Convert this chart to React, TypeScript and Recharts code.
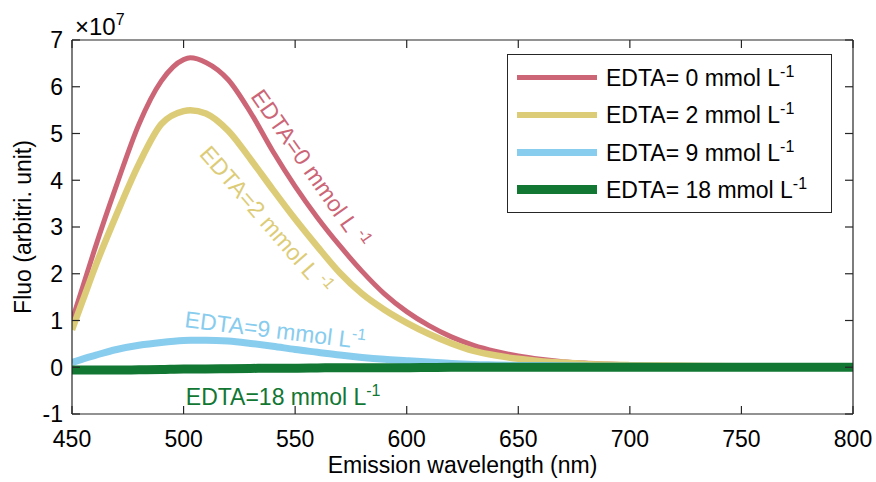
import React from 'react';
import { LineChart, Line, XAxis, YAxis, Legend, ReferenceDot } from 'recharts';

// Emission wavelength (nm)
const wavelengthNm = [450, 455, 460, 470, 480, 490, 500, 503, 510, 520, 530, 540, 550, 560, 570, 580, 590, 600, 610, 620, 630, 640, 650, 660, 670, 680, 690, 700, 725, 750, 775, 800];
// Fluorescence, in units of 1e7 (arbitrary units)
const fluoEdta0 = [1.0, 1.75, 2.5, 3.9, 5.2, 6.12, 6.58, 6.62, 6.52, 6.15, 5.45, 4.62, 3.87, 3.2, 2.6, 2.05, 1.57, 1.19, 0.89, 0.65, 0.47, 0.34, 0.24, 0.17, 0.12, 0.09, 0.07, 0.05, 0.03, 0.02, 0.02, 0.02];
const fluoEdta2 = [0.8, 1.45, 2.1, 3.27, 4.35, 5.2, 5.48, 5.5, 5.43, 5.06, 4.45, 3.8, 3.17, 2.58, 2.02, 1.57, 1.23, 0.95, 0.71, 0.51, 0.35, 0.25, 0.18, 0.13, 0.1, 0.07, 0.055, 0.045, 0.03, 0.02, 0.01, 0.01];
const fluoEdta9 = [0.1, 0.18, 0.25, 0.38, 0.47, 0.53, 0.57, 0.575, 0.58, 0.56, 0.51, 0.45, 0.38, 0.32, 0.26, 0.21, 0.17, 0.14, 0.11, 0.08, 0.06, 0.05, 0.04, 0.035, 0.03, 0.025, 0.02, 0.02, 0.015, 0.01, 0.01, 0.01];
const fluoEdta18 = [-0.06, -0.06, -0.06, -0.06, -0.055, -0.05, -0.04, -0.04, -0.035, -0.03, -0.025, -0.02, -0.02, -0.015, -0.01, -0.01, -0.01, -0.01, -0.005, 0, 0, 0, 0, 0, 0, 0, 0, 0, 0, 0, 0, 0];

const xTicks = [450, 500, 550, 600, 650, 700, 750, 800];
const yTicks = [-1, 0, 1, 2, 3, 4, 5, 6, 7];

const seriesNames = ['EDTA= 0 mmol L', 'EDTA= 2 mmol L', 'EDTA= 9 mmol L', 'EDTA= 18 mmol L'];
const seriesKeys = ['e0', 'e2', 'e9', 'e18'];
const seriesColors = ['#CC6677', '#DDCC77', '#88CCEE', '#117733'];
const seriesWidths = [5, 6.5, 7, 9];

// annotation labels: [text, x (nm), y (1e7), angle, anchor, series index]
const annotations: [string, number, number, number, string, number][] = [
  ['EDTA=0 mmol L ', 553.9, 4.15, 55, 'middle', 0],
  ['EDTA=2 mmol L ', 534.2, 3.04, 49, 'middle', 1],
  ['EDTA=9 mmol L', 500.2, 0.86, 7, 'start', 2],
  ['EDTA=18 mmol L', 501, -0.81, 0, 'start', 3],
];

const data = wavelengthNm.map((wl, i) => ({
  wl,
  e0: fluoEdta0[i],
  e2: fluoEdta2[i],
  e9: fluoEdta9[i],
  e18: fluoEdta18[i],
}));

const FONT = 'Liberation Sans, Arial, Helvetica, sans-serif';
const AXIS = '#262626';
const FS = 23;
const TICK_LEN = 8;

const LegendBox = () => (
  <div
    style={{
      boxSizing: 'border-box',
      width: 325,
      height: 159,
      border: `1.3px solid ${AXIS}`,
      background: '#fff',
      paddingTop: 4,
      fontFamily: FONT,
      fontSize: FS,
      color: '#000',
    }}
  >
    {seriesNames.map((n, i) => (
      <div key={n} style={{ height: 37.4, position: 'relative' }}>
        <div
          style={{
            position: 'absolute',
            left: 9,
            width: 80,
            height: seriesWidths[i],
            background: seriesColors[i],
            top: 18.7 - seriesWidths[i] / 2,
          }}
        />
        <span style={{ position: 'absolute', left: 98, top: 4, whiteSpace: 'nowrap', lineHeight: '30px' }}>
          {n}
          <sup style={{ fontSize: 16, verticalAlign: 'top', position: 'relative', top: -6 }}>-1</sup>
        </span>
      </div>
    ))}
  </div>
);

const makeAnnotation = (a: [string, number, number, number, string, number]) => (props: any) => {
  const { cx, cy } = props;
  if (cx == null || cy == null) return <g />;
  return (
    <text
      x={cx}
      y={cy}
      transform={`rotate(${a[3]} ${cx} ${cy})`}
      textAnchor={a[4] as any}
      fill={seriesColors[a[5]]}
      fontFamily={FONT}
      fontSize={FS}
    >
      {a[0]}
      <tspan dy={-9} fontSize={16}>-1</tspan>
    </text>
  );
};

// custom ticks: inward tick marks (MATLAB style) + labels
const BottomTick = (p: any) => (
  <g>
    <line x1={p.x} x2={p.x} y1={p.y - 16} y2={p.y - 16 - TICK_LEN} stroke={AXIS} strokeWidth={1.2} />
    <text x={p.x} y={p.y} dy="0.72em" textAnchor="middle" fill="#000" fontFamily={FONT} fontSize={FS}>
      {p.payload.value}
    </text>
  </g>
);
const LeftTick = (p: any) => (
  <g>
    <line x1={p.x + 9} x2={p.x + 9 + TICK_LEN} y1={p.y} y2={p.y} stroke={AXIS} strokeWidth={1.2} />
    <text x={p.x} y={p.y} dy="0.36em" textAnchor="end" fill="#000" fontFamily={FONT} fontSize={FS}>
      {p.payload.value}
    </text>
  </g>
);
const TopTick = (p: any) => (
  <line x1={p.x} x2={p.x} y1={p.y} y2={p.y + TICK_LEN} stroke={AXIS} strokeWidth={1.2} />
);
const RightTick = (p: any) => (
  <line x1={p.x} x2={p.x - TICK_LEN} y1={p.y} y2={p.y} stroke={AXIS} strokeWidth={1.2} />
);

export default function App() {
  return (
    <div style={{ position: 'absolute', left: 0, top: 0, width: 876, height: 482, background: '#fff' }}>
      <LineChart
        width={876}
        height={482}
        data={data}
        margin={{ top: 39, right: 22, bottom: 38, left: 8 }}
      >
        <XAxis
          dataKey="wl"
          type="number"
          domain={[450, 800]}
          ticks={xTicks}
          allowDataOverflow
          height={30}
          tickSize={0}
          tickMargin={16}
          tickLine={false}
          stroke={AXIS}
          strokeWidth={1.2}
          tick={BottomTick}
          label={{
            value: 'Emission wavelength (nm)',
            position: 'bottom',
            offset: 13,
            style: { fill: '#000', fontSize: FS, fontFamily: FONT },
          }}
        />
        <XAxis
          xAxisId="top"
          orientation="top"
          dataKey="wl"
          type="number"
          domain={[450, 800]}
          ticks={xTicks}
          allowDataOverflow
          height={1}
          tickSize={0}
          tickMargin={0}
          tickLine={false}
          tick={TopTick}
          stroke={AXIS}
          strokeWidth={1.2}
          label={{
            content: (p: any) => {
              const vb = p.viewBox || {};
              return (
                <text x={(vb.x ?? 72) + 3} y={(vb.y ?? 39) - 4} fontFamily={FONT} fontSize={24} fill="#000">
                  ×10
                  <tspan dy={-10} fontSize={16}>7</tspan>
                </text>
              );
            },
          }}
        />
        <YAxis
          type="number"
          domain={[-1, 7]}
          ticks={yTicks}
          allowDataOverflow
          width={64}
          tickSize={0}
          tickMargin={9}
          tickLine={false}
          stroke={AXIS}
          strokeWidth={1.2}
          tick={LeftTick}
          label={{
            value: 'Fluo (arbitri. unit)',
            angle: -90,
            position: 'insideLeft',
            offset: 14.5,
            style: { textAnchor: 'middle', fill: '#000', fontSize: FS, fontFamily: FONT },
          }}
        />
        <YAxis
          yAxisId="right"
          orientation="right"
          type="number"
          domain={[-1, 7]}
          ticks={yTicks}
          allowDataOverflow
          width={1}
          tickSize={0}
          tickMargin={0}
          tickLine={false}
          tick={RightTick}
          stroke={AXIS}
          strokeWidth={1.2}
        />
        {seriesKeys.map((k, i) => (
          <Line
            key={k}
            type="monotone"
            dataKey={k}
            name={seriesNames[i]}
            stroke={seriesColors[i]}
            strokeWidth={seriesWidths[i]}
            dot={false}
            activeDot={false}
            isAnimationActive={false}
          />
        ))}
        {annotations.map((a, i) => (
          <ReferenceDot key={i} x={a[1]} y={a[2]} r={0} ifOverflow="visible" shape={makeAnnotation(a)} />
        ))}
        <Legend
          layout="horizontal"
          verticalAlign="middle"
          align="center"
          content={() => <LegendBox />}
          wrapperStyle={{ left: 507, top: 54, width: 325, height: 159 }}
        />
      </LineChart>
    </div>
  );
}
